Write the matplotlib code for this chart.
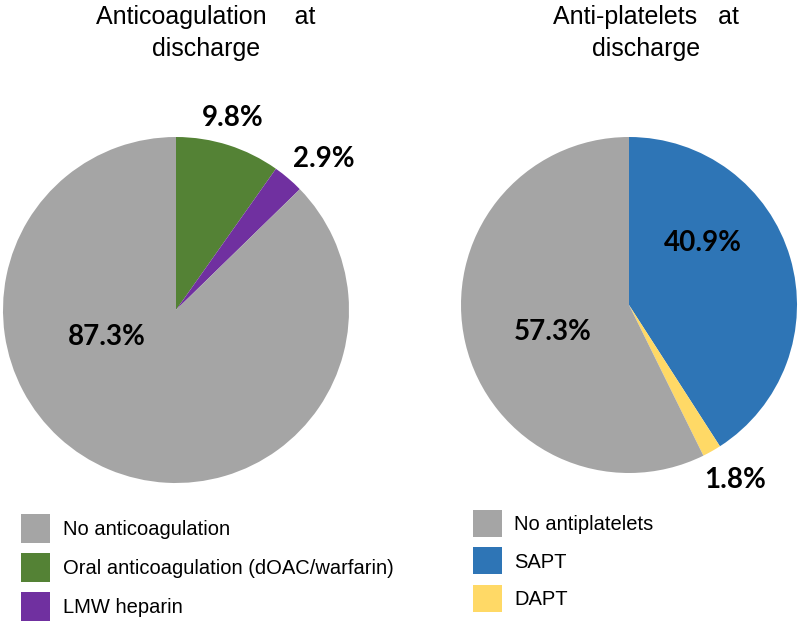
import matplotlib
matplotlib.use('Agg')
import matplotlib.pyplot as plt

# data
anticoag_labels = ['No anticoagulation', 'Oral anticoagulation (dOAC/warfarin)', 'LMW heparin']
anticoag_values = [87.3, 9.8, 2.9]
antiplt_labels = ['No antiplatelets', 'SAPT', 'DAPT']
antiplt_values = [57.3, 40.9, 1.8]

anticoag_colors = ['#A5A5A5', '#548235', '#7030A0']
antiplt_colors = ['#A5A5A5', '#2E75B6', '#FFD966']

W, H = 800, 623
fig = plt.figure(figsize=(W / 100, H / 100), dpi=100)


def px_axes(cx, cy, r):
    # square axes around a pie centre given in pixels from top-left
    return fig.add_axes([(cx - r) / W, (H - cy - r) / H, 2 * r / W, 2 * r / H])


def draw_pie(ax, values, colors, label_pos):
    # slices go clockwise from 12 o'clock, first the non-grey ones
    order = list(range(1, len(values))) + [0]
    vals = [values[i] for i in order]
    cols = [colors[i] for i in order]
    wedges, _ = ax.pie(vals, colors=cols, startangle=90, counterclock=False,
                       wedgeprops=dict(linewidth=0))
    ax.set_xlim(-1, 1)
    ax.set_ylim(-1, 1)
    for i, v in zip(order, vals):
        x, y = label_pos[i]
        ax.text(x, y, f'{v:.1f}%', ha='center', va='center', fontsize=20,
                fontweight='bold', family=['Lato', 'DejaVu Sans'], color='black')
    # wedges back in legend order
    return [wedges[order.index(i)] for i in range(len(values))]


ax1 = px_axes(176, 310, 173)
w1 = draw_pie(ax1, anticoag_values, anticoag_colors,
              [(-0.40, -0.156), (0.33, 1.11), (0.855, 0.873)])

ax2 = px_axes(629, 305, 168)
w2 = draw_pie(ax2, antiplt_values, antiplt_colors,
              [(-0.452, -0.161), (0.44, 0.369), (0.631, -1.042)])

# titles (justified in the original, hence the wide gap before "at")
title_font = dict(fontsize=18, family=['Liberation Sans', 'DejaVu Sans'])
for cx, lines in [(206, ['Anticoagulation    at', 'discharge']),
                  (646, ['Anti-platelets   at', 'discharge'])]:
    for k, line in enumerate(lines):
        fig.text(cx / W, 1 - (24 + 32 * k) / H, line, ha='center', va='baseline',
                 **title_font)

leg_font = dict(family=['Liberation Sans', 'DejaVu Sans'], size=14.5)
fig.legend(w1, anticoag_labels, loc='upper left', bbox_to_anchor=(21 / W, 1 - 514 / H),
           bbox_transform=fig.transFigure, frameon=False, borderpad=0, borderaxespad=0,
           handlelength=1.45, handleheight=1.84, labelspacing=0.5, handletextpad=0.65,
           prop=leg_font)
fig.legend(w2, antiplt_labels, loc='upper left', bbox_to_anchor=(473 / W, 1 - 510 / H),
           bbox_transform=fig.transFigure, frameon=False, borderpad=0, borderaxespad=0,
           handlelength=1.45, handleheight=1.685, labelspacing=0.52, handletextpad=0.6,
           prop=leg_font)

fig.savefig('out.png', dpi=100)
